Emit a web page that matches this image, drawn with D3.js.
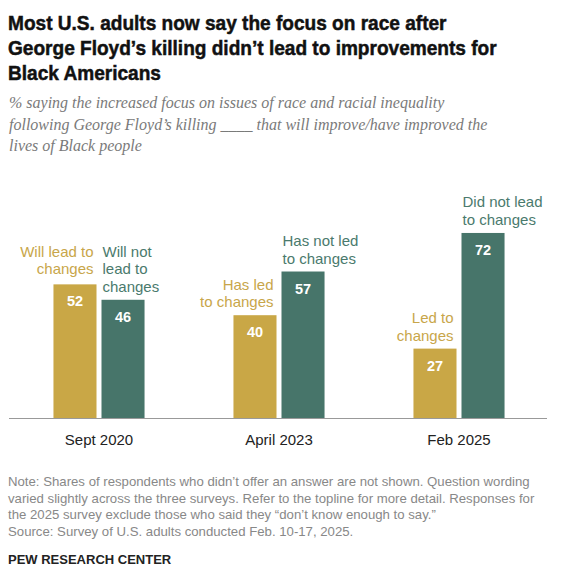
<!DOCTYPE html>
<html>
<head>
<meta charset="utf-8">
<script src="https://cdn.jsdelivr.net/npm/d3@7"></script>
<style>
  body { margin: 0; background: #fff; }
  svg { display: block; }
</style>
</head>
<body>
<svg id="chart" width="566" height="576"></svg>
<script>
// survey waves and shares (%)
const waves = ["Sept 2020", "April 2023", "Feb 2025"]
const ledValues = [52, 40, 27]
const notLedValues = [46, 57, 72]
const ledLabels = [["Will lead to", "changes"], ["Has led", "to changes"], ["Led to", "changes"]]
const notLedLabels = [["Will not", "lead to", "changes"], ["Has not led", "to changes"], ["Did not lead", "to changes"]]

const titleLines = [
	"Most U.S. adults now say the focus on race after",
	"George Floyd\u2019s killing didn\u2019t lead to improvements for",
	"Black Americans"
]
const subtitleLines = [
	"% saying the increased focus on issues of race and racial inequality",
	"following George Floyd\u2019s killing ____ that will improve/have improved the",
	"lives of Black people"
]
const noteLines = [
	"Note: Shares of respondents who didn\u2019t offer an answer are not shown. Question wording",
	"varied slightly across the three surveys. Refer to the topline for more detail. Responses for",
	"the 2025 survey exclude those who said they \u201cdon\u2019t know enough to say.\u201d",
	"Source: Survey of U.S. adults conducted Feb. 10-17, 2025."
]

const gold = "#c9a746"
const green = "#47756a"
const sansFont = "'Liberation Sans', Arial, sans-serif"

const svg = d3.select("#chart")

// 标题（字体偏宽，整体横向压缩到原图宽度）
const titleG = svg.append("g")
titleG.selectAll("text")
	.data(titleLines)
	.join("text")
	.attr("x", 0)
	.attr("y", (d, i) => 30 + i * 25)
	.style("font-family", sansFont)
	.style("font-weight", "bold")
	.style("font-size", "21px")
	.style("fill", "#111")
	.style("stroke", "#111")
	.style("stroke-width", 0.5)
	.text(d => d)
const widest = d3.max(titleG.selectAll("text").nodes(), n => n.getComputedTextLength())
titleG.attr("transform", `translate(8,0) scale(${489 / widest},1)`)

// 副标题
svg.append("g")
	.selectAll("text")
	.data(subtitleLines)
	.join("text")
	.attr("x", 9)
	.attr("y", (d, i) => 108 + i * 21.5)
	.style("font-family", "'Liberation Serif', 'DejaVu Serif', serif")
	.style("font-style", "italic")
	.style("font-size", "16px")
	.style("fill", "#7a7a7a")
	.text(d => d)

// scales
const baseline = 418
const x0 = d3.scaleBand().domain(waves).range([9, 549]).paddingInner(0.494).paddingOuter(0.247)
const x1 = d3.scaleBand().domain(["led", "notLed"]).range([0, x0.bandwidth()]).paddingInner(0.104)
const y = d3.scaleLinear().domain([0, 100]).range([baseline, baseline - 257])

const rows = waves.map((w, i) => ({
	wave: w,
	bars: [
		{ key: "led", value: ledValues[i], label: ledLabels[i], color: gold, text: "#c8a64a", anchor: "end",
			other: notLedValues[i], otherLines: notLedLabels[i].length },
		{ key: "notLed", value: notLedValues[i], label: notLedLabels[i], color: green, text: "#4a7a6d", anchor: "start",
			other: ledValues[i], otherLines: ledLabels[i].length }
	]
}))

const groups = svg.append("g")
	.selectAll("g")
	.data(rows)
	.join("g")
	.attr("transform", d => `translate(${x0(d.wave)},0)`)

const bars = groups.selectAll("g")
	.data(d => d.bars)
	.join("g")

bars.append("rect")
	.attr("x", d => x1(d.key))
	.attr("y", d => y(d.value))
	.attr("width", x1.bandwidth())
	.attr("height", d => baseline - y(d.value))
	.attr("fill", d => d.color)

// 柱内数值
bars.append("text")
	.attr("x", d => x1(d.key) + x1.bandwidth() / 2)
	.attr("y", d => y(d.value) + 22)
	.attr("text-anchor", "middle")
	.style("font-family", sansFont)
	.style("font-weight", "bold")
	.style("font-size", "14.5px")
	.style("fill", "#fff")
	.text(d => d.value)

// 柱顶标注：标签底行在柱顶上方 8px；若相邻柱较矮但其标签更高，则与其顶行对齐
const lineH = 17.5
bars.append("text")
	.attr("text-anchor", d => d.anchor)
	.style("font-family", sansFont)
	.style("font-size", "15px")
	.style("fill", d => d.text)
	.each(function (d) {
		const xPos = d.anchor === "end" ? x1(d.key) + x1.bandwidth() - 3 : x1(d.key) + 1
		let firstBase = y(d.value) - 8 - (d.label.length - 1) * lineH
		const otherFirst = y(d.other) - 8 - (d.otherLines - 1) * lineH
		if (d.other < d.value && otherFirst < firstBase) firstBase = otherFirst
		d3.select(this).selectAll("tspan")
			.data(d.label)
			.join("tspan")
			.attr("x", xPos)
			.attr("y", (t, i) => firstBase + i * lineH)
			.text(t => t)
	})

// 基线
svg.append("line")
	.attr("x1", 9)
	.attr("x2", 547)
	.attr("y1", baseline + 0.5)
	.attr("y2", baseline + 0.5)
	.attr("stroke", "#999")
	.attr("stroke-width", 1.2)

// x 轴标签
const xAxis = svg.append("g")
	.attr("transform", `translate(0,${baseline})`)
	.call(d3.axisBottom(x0).tickSize(0).tickPadding(16))
xAxis.select(".domain").remove()
xAxis.selectAll("text")
	.style("font-family", sansFont)
	.style("font-size", "15px")
	.style("fill", "#222")

// 注释
svg.append("g")
	.selectAll("text")
	.data(noteLines)
	.join("text")
	.attr("x", 8)
	.attr("y", (d, i) => 486 + i * 16.7)
	.style("font-family", sansFont)
	.style("font-size", "13.2px")
	.style("fill", "#888")
	.text(d => d)

svg.append("text")
	.attr("x", 8)
	.attr("y", 564)
	.style("font-family", sansFont)
	.style("font-weight", "bold")
	.style("font-size", "13px")
	.style("fill", "#222")
	.text("PEW RESEARCH CENTER")
</script>
</body>
</html>
